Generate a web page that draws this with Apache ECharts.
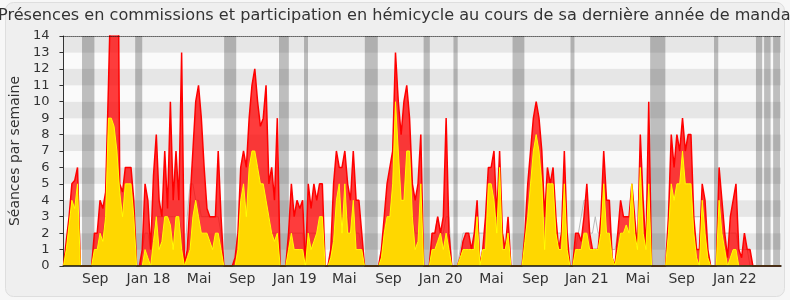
<!DOCTYPE html>
<html><head><meta charset="utf-8">
<script src="https://cdn.jsdelivr.net/npm/echarts@6/dist/echarts.min.js"></script>
<style>html,body{margin:0;padding:0;background:#f7f7f7}#c{width:790px;height:300px}</style>
</head><body><div id="c"></div>
<script>
// weekly values, week index 0..255
const red = [
0,1.5,3,5,5.2,6,0,0,0,0, 0,2,2,4,3.5,4.5,11,18,22,30, 5,4.5,6,6,6,4,0,0,1,5,
4,1,5.5,8,4,3,7,3.5,10,4, 7,4,13,0,1,4,7,10,11,9, 6,3.5,3,3,3,7,3,0,0,0,
0,0.5,2,6,7,6,9,11,12,10, 8.5,9,11,5,6,4,9,0,0,0, 2,5,3,4,3.5,4,0,5,3.5,5,
4,5,5,0,0,1,5,7,6,6, 7,5,4,7,4,4,2,0,0,0, 0,0,0,1,3,5,6,7,13,10,
8,10,11,9,5,4,5,8,0,0, 0,2,2,3,2,3,9,2,0,0, 0,0.5,1.5,2,2,1,2,4,0,1,
3,6,6,7,3,7,2,1,3,0, 0,0,0,0,2,5,7,9,10,9, 7,3,6,5,6,3,1,2,7,2,
0,0,2,2,1.5,3,5,2,1,1, 1,3,7,4,4,0.5,0,2,4,3, 3,3,5,3,1,8,4,1,10,0,
0,0,0,0,0,3,8,6,8,7, 9,7,8,8,3,1,1,5,4,1, 0,0,0,6,4,2,0.5,3,4,5,
1,0.5,2,1,1,0,0,0,0,0, 0,0,0,0,0,0
];
const yellow = [
0,1,2.5,4,3.5,5,0,0,0,0, 0,1,1,2,1.5,3,9,9,8.5,7, 4.5,3,5,5,5,3,0,0,0,1,
0.5,0,1.5,3,1,1.5,3,3,2.5,1, 3,3,1,0,0.5,1,3,4,3,2, 2,2,1.5,1,2,2,1,0,0,0,
0,0,1,4,5,3,6,7,7,6, 5,5,4,3,2,1.5,2,0,0,0, 1,2,1,1,1,1,0,2,1,1.5,
2,3,3,0,0,0.5,1.5,4,5,2, 5,2,2,4,1,1,1,0,0,0, 0,0,0,0.5,2,3,3,5,10,7,
4,4,7,7,3,1,1.5,5,0,0, 0,1,1,1.5,2,1,2,1,0,0, 0,0.5,1,1,1,1,1,3,0,1,
1,5,5,4,2,6,1,1,2,0, 0,0,0,0,1.5,3,5,7,8,7, 5,1,5,5,5,2,1,1,5,1,
0,0,1,1,1,2,2,1,1,1, 1,2,5,2,2,0.5,0,1,2,2, 2.5,2,5,2,1,6,2,1,5,0,
0,0,0,0,0,2,5,4,5,5, 7,5,5,5,2,0.5,0,4,2,0.5, 0,0,0,4,2,1,0,0.5,1,1,
0,0,0,0,0,0,0,0,0,0, 0,0,0,0,0,0
];
const grey = [
0,1,2,2,3,3,0,0,0,0, 0,1,1,2,2,3,3,3,3,3, 3,2,3,3,3,2,0,0,1,2,
2,1,2,3,3,3,3,3,3,3, 3,3,2,0,3,5,5,4,4,3, 3,3,3,3,3,3,2,0,0,0,
0,1,2,3,3,3,3,4,4,3, 3,3,3,3,2,2,2,0,0,0, 2,2,2,2,2,2,0,2,2,2,
2,2,2,0,0,1,2,3,3,3, 3,3,2,3,2,2,1,0,0,0, 0,0,0,1,2,3,3,3,4,4,
3,3,3,3,3,2,2,2,0,0, 0,2,2,3,2,2,3,3,0,0, 0,1,2,2,2,2,2,2,2,2,
2,3,3,3,2,2,2,1,1,0, 0,0,0,0,1,2,3,3,3,3, 3,3,3,3,3,2,2,2,2,1,
0,0,1,2,3,4,4,2,2,3, 2,2,2,2,2,1,1,2,2,2, 2,2,2,2,2,2,2,2,2,0,
0,0,0,0,1,2,3,3,3,3, 3,3,3,3,3,3,3,3,2,1, 0,0,0,2,2,2,2,2,2,2,
1,1,1,1,0,0,0,0,0,0, 0,0,0,0,0,0
];
// x-axis tick labels (position in weeks)
const tickWeeks = [11.3, 30.2, 48.2, 63.5, 82.2, 99.8, 115.5, 134.1, 152.1, 167.7, 186, 204.1, 219.7, 238.6];
const tickLabels = ['Sep','Jan 18','Mai','Sep','Jan 19','Mai','Sep','Jan 20','Mai','Sep','Jan 21','Mai','Sep','Jan 22'];
// parliamentary breaks (start week, end week)
const vacations = [[6.6,11.0],[25.5,28.0],[57.1,61.4],[76.6,80.1],[85.5,86.9],[107.1,111.7],[128.0,130.2],[138.6,140.1],[159.6,163.8],[180.2,181.6],[208.5,213.9],[231.2,232.7],[246.1,248.3],[249.0,251.3],[252.2,254.7]];
const yMax = 14;
const nWeeks = red.length - 1;

const FONT = 'DejaVu Sans';
const chart = echarts.init(document.getElementById('c'), null, {renderer: 'canvas'});
const pts = arr => arr.map((v, i) => [i, v]);

chart.setOption({
  backgroundColor: '#f7f7f7',
  animation: false,
  graphic: [{
    type: 'rect', z: -10, silent: true,
    shape: {x: 5.5, y: 2.5, width: 779, height: 294, r: 8},
    style: {fill: '#efefef', stroke: '#dedede', lineWidth: 1}
  }],
  title: {
    text: 'Présences en commissions et participation en hémicycle au cours de sa dernière année de mandat',
    left: -2, top: 8, padding: 0,
    textStyle: {fontFamily: FONT, fontSize: 16.1, fontWeight: 'normal', color: '#333'}
  },
  grid: {left: 62, right: 9, top: 36, bottom: 34, containLabel: false},
  xAxis: {
    type: 'value', min: 0, max: nWeeks, z: 10,
    axisLine: {show: true, lineStyle: {color: '#111', width: 1.5}},
    axisTick: {show: false},
    splitLine: {show: false},
    axisLabel: {
      customValues: tickWeeks,
      formatter: v => tickLabels[tickWeeks.indexOf(v)] || '',
      fontFamily: FONT, fontSize: 14, color: '#333', margin: 6
    }
  },
  yAxis: {
    type: 'value', min: 0, max: yMax, interval: 1,
    name: 'Séances par semaine', nameLocation: 'middle', nameGap: 40,
    nameTextStyle: {fontFamily: FONT, fontSize: 14, color: '#333'},
    axisLine: {show: true, lineStyle: {color: '#333', width: 1}},
    axisTick: {show: true, length: 4, lineStyle: {color: '#333'}},
    axisLabel: {fontFamily: FONT, fontSize: 13, color: '#333', margin: 14},
    splitLine: {show: false},
    splitArea: {show: true, areaStyle: {color: ['#fafafa', '#e6e6e6']}}
  },
  series: [
    {
      type: 'line', z: 1, data: [], silent: true,
      markArea: {
        silent: true,
        itemStyle: {color: 'rgba(0,0,0,0.24)'},
        data: vacations.map(([a, b]) => [{xAxis: a}, {xAxis: b}])
      },
      markLine: {
        silent: true, symbol: ['none', 'none'], label: {show: false},
        lineStyle: {type: 'dotted', color: '#000', width: 1},
        data: [{yAxis: yMax}]
      }
    },
    {
      name: 'médiane', type: 'line', z: 2, data: pts(grey), symbol: 'none',
      lineStyle: {color: '#b8b8b8', width: 1}
    },
    {
      name: 'commissions', type: 'line', z: 3, data: pts(red), symbol: 'none',
      lineStyle: {color: '#ff0000', width: 1.5},
      areaStyle: {color: 'rgba(255,0,0,0.76)', opacity: 1}
    },
    {
      name: 'hémicycle', type: 'line', z: 4, data: pts(yellow), symbol: 'none',
      lineStyle: {color: '#ffff00', width: 1},
      areaStyle: {color: '#ffd700', opacity: 1}
    }
  ]
});
</script></body></html>
